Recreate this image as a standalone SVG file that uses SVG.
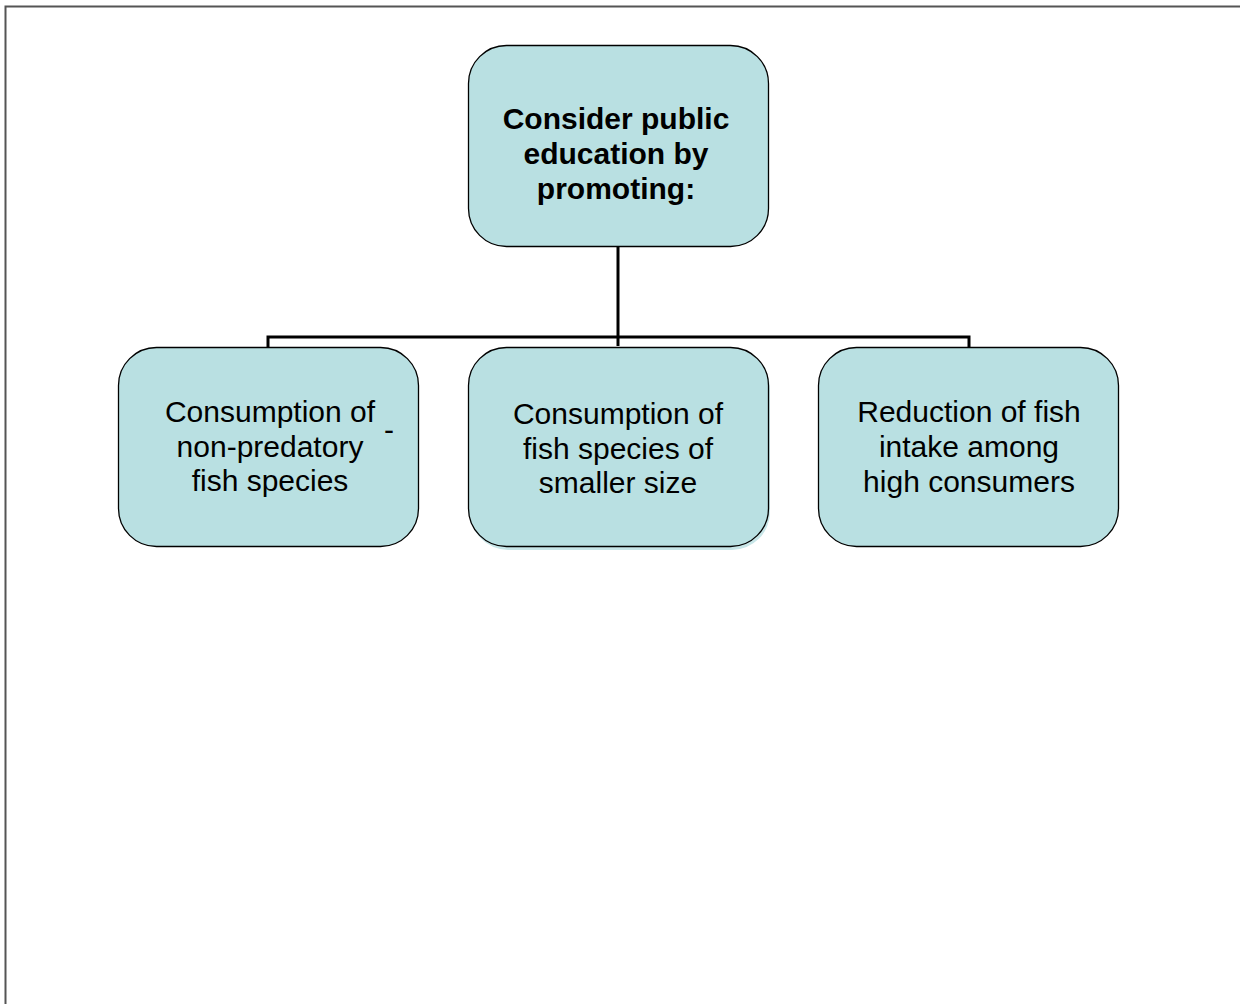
<svg xmlns="http://www.w3.org/2000/svg" width="1241" height="1004" viewBox="0 0 1241 1004">
<style>
.box{fill:#b9e0e2;stroke:#000;stroke-width:1.3}
.t{font-family:"Liberation Sans",Arial,sans-serif;font-size:30px;fill:#000;text-anchor:middle}
.b{font-weight:bold}
.c{fill:none;stroke:#000;stroke-width:3}
</style>
<rect width="1241" height="1004" fill="#fff"/>
<path d="M5.5 1004 V6.5 H1240" fill="none" stroke="#555" stroke-width="2"/>
<g id="connectors">
<path class="c" d="M618 246 V346"/>
<path class="c" d="M268 347 V337 H969 V347"/>
</g>
<g id="n0">
<rect class="box" x="468.5" y="45.5" width="300" height="201" rx="38"/>
<text class="t b" x="616" y="129">Consider public</text>
<text class="t b" x="616" y="164">education by</text>
<text class="t b" x="616" y="199">promoting:</text>
</g>
<g id="n1">
<rect class="box" x="118.5" y="347.5" width="300" height="199" rx="38"/>
<text class="t" x="270" y="422">Consumption of</text>
<text class="t" x="270" y="457">non-predatory</text>
<text class="t" x="270" y="491">fish species</text>
<text class="t" x="389" y="440">-</text>
</g>
<g id="n2">
<rect x="470" y="351" width="300" height="199" rx="38" fill="#c8e6e8"/>
<rect class="box" x="468.5" y="347.5" width="300" height="199" rx="38"/>
<text class="t" x="618" y="424">Consumption of</text>
<text class="t" x="618" y="459">fish species of</text>
<text class="t" x="618" y="493">smaller size</text>
</g>
<g id="n3">
<rect class="box" x="818.5" y="347.5" width="300" height="199" rx="38"/>
<text class="t" x="969" y="422">Reduction of fish</text>
<text class="t" x="969" y="457">intake among</text>
<text class="t" x="969" y="492">high consumers</text>
</g>
</svg>
